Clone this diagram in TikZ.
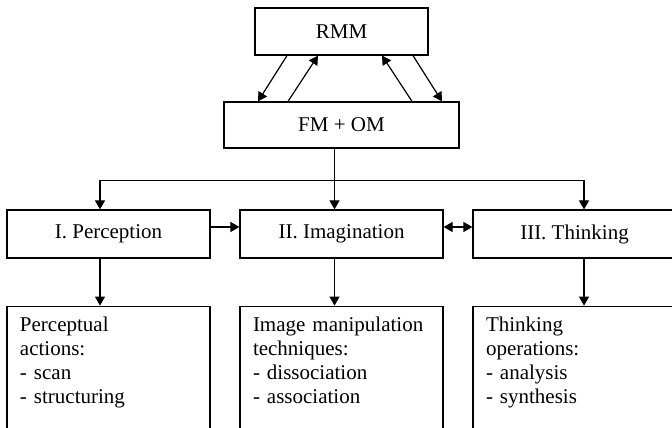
\documentclass[tikz,border=0pt]{standalone}
\usepackage{fontspec}
\setmainfont{Liberation Serif}
\usepackage{tikz}
\usetikzlibrary{arrows.meta,calc,positioning}

\begin{document}
\begin{tikzpicture}[x=0.5bp,y=-0.5bp,line width=0.6bp,
    >={Triangle[length=4.5bp,width=5bp]},
    box/.style={draw,minimum width=101.5bp,minimum height=24bp,inner sep=0pt,
      font=\fontsize{10.5bp}{12bp}\selectfont},
    lowbox/.style={draw,anchor=north,minimum width=101.5bp,minimum height=75bp,inner sep=0pt},
    lowtext/.style={anchor=north west,inner sep=0pt,text width=92bp,align=left,
      font=\fontsize{10.5bp}{12bp}\selectfont}]
  \useasboundingbox (0,0) rectangle (672,428); \clip (0,0) rectangle (672,428);
  % top part
  \node[box,minimum width=86.5bp,minimum height=23.5bp] (rmm) at (341.5,31.5) {RMM};
  \node[box,minimum width=117.5bp,minimum height=23bp] (fmom) at (341.5,125) {FM + OM};
  \draw[->] ($(rmm.south)+(-54.5,0)$) -- ($(fmom.north)+(-83.5,0)$);
  \draw[->] ($(fmom.north)+(-53.5,0)$) -- ($(rmm.south)+(-23.5,0)$);
  \draw[->] ($(fmom.north)+(70.5,0)$) -- ($(rmm.south)+(40.5,0)$);
  \draw[->] ($(rmm.south)+(71.5,0)$) -- ($(fmom.north)+(100.5,0)$);
  % three stages
  \node[box] (perc) at (108.5,234) {I. Perception};
  \node[box] (imag) at (341.5,234) {II. Imagination};
  \node[box] (think) at (574.5,234) {III. Thinking};
  \coordinate (split) at ($(fmom.south)+(-7,32)$);
  \draw[->] ($(fmom.south)+(-7,0)$) -- ($(imag.north)+(-7,0)$);
  \draw[->] (split) -| ($(perc.north)+(-8.5,0)$);
  \draw[->] (split) -| ($(think.north)+(9.5,0)$);
  \draw[->] ($(perc.east)+(0,-7)$) -- ($(imag.west)+(0,-7)$);
  \draw[<->] ($(imag.east)+(0,-7)$) -- ($(think.west)+(0,-7)$);
  % lower boxes
  \foreach \stage/\name/\dx/\txt in {perc/percact/-8.5/{Perceptual\\actions:\\- scan\\- structuring},
      imag/imagtech/-7/{Image manipulation\\techniques:\\- dissociation\\- association},
      think/thinkop/9.5/{Thinking\\operations:\\- analysis\\- synthesis}} {
    \node[lowbox] (\name) at ($(\stage.south)+(0,47)$) {};
    \node[lowtext] (\name-txt) at ($(\name.north west)+(13,10.5)$) {\txt};
    \draw[->] ($(\stage.south)+(\dx,0)$) -- ($(\name.north)+(\dx,0)$);
  }
\end{tikzpicture}
\end{document}
